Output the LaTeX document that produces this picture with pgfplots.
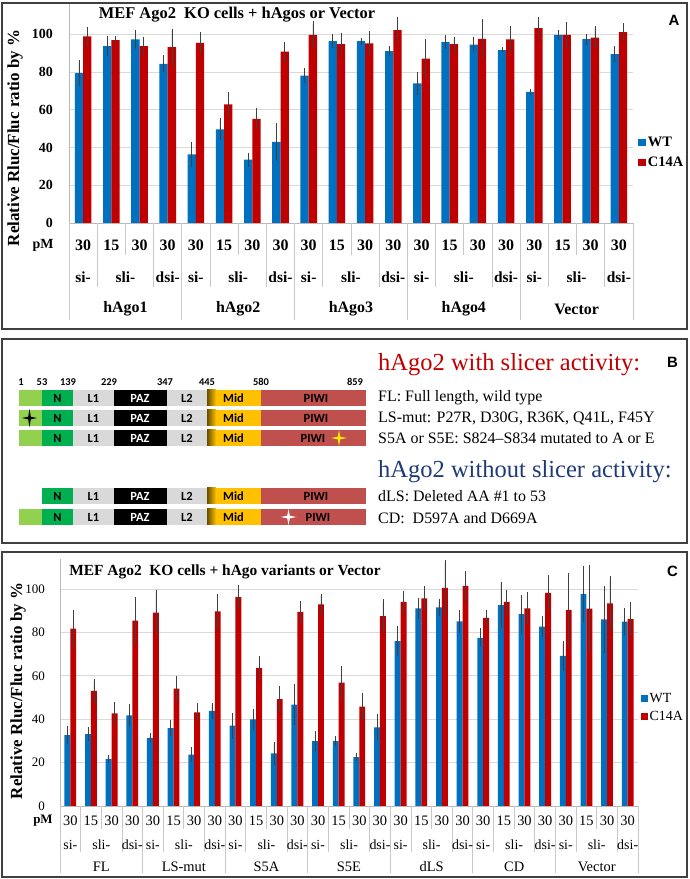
\documentclass[border=0pt]{standalone}
\usepackage{pgfplots}
\pgfplotsset{compat=1.18}
\usepackage{pgfplotstable}
\usepackage{fontspec}
\setmainfont{Liberation Serif}
\newfontfamily\calib{Carlito}
\newfontfamily\arialf{Liberation Sans}
\definecolor{wtblue}{HTML}{0070C0}
\definecolor{c14red}{HTML}{C00000}
\definecolor{gridc}{HTML}{D9D9D9}
\definecolor{sepc}{HTML}{C8C8C8}
\definecolor{lsgreen}{HTML}{92D050}
\definecolor{ngreen}{HTML}{00B050}
\definecolor{lgray}{HTML}{D9D9D9}
\definecolor{midorange}{HTML}{FFC000}
\definecolor{piwired}{HTML}{C0504D}
\definecolor{navy}{HTML}{1F3A78}
\newcommand{\fs}[1]{\fontsize{#1}{#1}\selectfont}
\newcommand{\sparkle}[5]{% colour, x, y, half height, half width
  \fill[#1] (#2,#3-#4) -- (#2+1.3,#3-1.3) -- (#2+#5,#3) -- (#2+1.3,#3+1.3)
    -- (#2,#3+#4) -- (#2-1.3,#3+1.3) -- (#2-#5,#3) -- (#2-1.3,#3-1.3) -- cycle;}

% panel A: hAgo1..4, Vector; si-30, sli-15, sli-30, dsi-30
\pgfplotstableread{
x wt wte mu mue
0 79.4 5.5 98.8 3.8
1 93.7 4.0 96.8 1.2
2 97.2 4.0 93.7 3.5
3 84.3 3.3 93.1 8.6
4 36.3 5.3 95.4 4.6
5 49.6 4.5 62.8 5.2
6 33.5 2.5 55.2 4.2
7 42.9 9.0 90.8 4.0
8 78.1 2.8 99.6 6.0
9 96.3 2.5 94.7 4.6
10 96.3 0.5 95.2 5.0
11 91.0 1.4 102.1 5.5
12 73.9 4.6 87.1 9.2
13 95.8 2.3 94.7 2.6
14 94.5 2.6 97.5 9.4
15 91.5 0.4 97.2 6.0
16 69.5 0.3 103.2 4.4
17 99.6 1.6 99.6 5.8
18 97.4 1.6 98.2 4.9
19 89.4 3.0 101.1 3.5
}\dataA

% panel C: FL, LS-mut, S5A, S5E, dLS, CD, Vector
\pgfplotstableread{
x wt wte mu mue
0 32.7 3.2 81.7 7.3
1 33.1 2.0 53.0 4.4
2 21.7 0.8 42.7 4.0
3 41.8 4.3 85.4 9.6
4 31.4 1.1 89.1 9.2
5 35.9 2.7 54.1 4.9
6 23.7 2.4 43.1 3.4
7 43.8 2.6 89.7 6.9
8 37.0 4.9 96.3 4.2
9 39.9 3.8 63.6 4.6
10 24.2 4.2 49.3 5.0
11 46.7 8.2 89.4 3.9
12 29.9 3.5 92.9 3.9
13 29.9 1.3 56.9 6.7
14 22.5 0.8 45.8 5.2
15 36.2 4.9 87.5 6.6
16 76.0 5.7 94.1 4.0
17 91.1 3.6 95.7 4.5
18 91.5 3.0 100.5 11.9
19 85.1 4.3 101.4 5.9
20 77.5 3.2 86.7 2.6
21 92.6 9.7 94.0 4.2
22 88.4 7.9 91.1 6.3
23 82.7 3.9 98.2 7.3
24 69.2 5.9 90.4 16.0
25 97.7 12.0 90.9 19.0
26 86.0 14.2 93.4 11.4
27 84.9 5.2 86.1 6.7
}\dataC

\pgfplotsset{
  barchart/.style={
    scale only axis, anchor=south west, clip=false,
    ybar=0pt, ymin=0, ytick={0,20,...,100},
    xtick=\empty, major tick length=0pt,
    axis y line*=left, axis x line*=bottom,
    axis line style={black!28, line width=0.8bp},
    ymajorgrids, grid style={gridc, line width=0.8bp},
    /pgf/number format/assume math mode=true,
    error bars/error bar style={black!75, line width=0.6bp},
    error bars/error mark options={black!75, line width=0.6bp, mark size=2.4bp},
    legend cell align=left,
  },
}

\begin{document}
\begin{tikzpicture}[x=1bp,y=1bp]
\path[use as bounding box] (0,0) rectangle (690,879);
\coordinate (pA) at (69,656);
\coordinate (pC) at (60,73);

% ---------- panel A ----------
\begin{axis}[barchart, at={(pA)}, width=564bp, height=219bp,
  xmin=-0.5, xmax=19.5, ymax=116, bar width=8.3bp,
  yticklabel style={font=\bfseries\fs{14}, inner sep=0pt, xshift=-16bp},
  legend style={at={(1.004,0.322)}, anchor=west, draw=none, fill=none,
    font=\bfseries\fs{14.5}, row sep=5bp}]
\addplot[fill=wtblue, draw=none,
  legend image code/.code={\fill[wtblue] (0bp,-3.6bp) rectangle (7.5bp,3.6bp);},
  error bars/.cd, y dir=both, y explicit]
  table[x=x, y=wt, y error=wte] {\dataA};
\addplot[fill=c14red, draw=none,
  legend image code/.code={\fill[c14red] (0bp,-3.6bp) rectangle (7.5bp,3.6bp);},
  error bars/.cd, y dir=both, y explicit]
  table[x=x, y=mu, y error=mue] {\dataA};
\legend{WT,C14A}
\end{axis}

% ---------- panel C ----------
\begin{axis}[barchart, at={(pC)}, width=578bp, height=247.4bp,
  xmin=-0.5, xmax=27.5, ymax=114, bar width=5.9bp,
  yticklabel style={font=\fs{13}, inner sep=0pt, xshift=-15bp},
  legend style={at={(1.0,0.398)}, anchor=west, draw=none, fill=none,
    font=\fs{14}, row sep=3bp}]
\addplot[fill=wtblue, draw=none,
  legend image code/.code={\fill[wtblue] (0bp,-3.2bp) rectangle (6.5bp,3.2bp);},
  error bars/.cd, y dir=both, y explicit]
  table[x=x, y=wt, y error=wte] {\dataC};
\addplot[fill=c14red, draw=none,
  legend image code/.code={\fill[c14red] (0bp,-3.2bp) rectangle (6.5bp,3.2bp);},
  error bars/.cd, y dir=both, y explicit]
  table[x=x, y=mu, y error=mue] {\dataC};
\legend{WT,C14A}
\end{axis}

\begin{scope}[shift={(0,879)}, yscale=-1]
% frames
\draw[black!75, line width=1.3bp] (2,3) rectangle (687,329);
\draw[black!75, line width=1.3bp] (2,339) rectangle (687,543);
\draw[black!75, line width=1.3bp] (2,552) rectangle (687,877);

% ---- panel A labels ----
\node[font=\bfseries\fs{16.5}] at (237,15) {MEF Ago2\ \ KO cells + hAgos or Vector};
\node[font=\bfseries\fs{17}, rotate=90] at (15,138) {Relative Rluc/Fluc ratio by \%};
\node[font=\arialf\bfseries\fs{15}] at (674,20.5) {A};
\foreach \k in {0,...,20}{
  \pgfmathsetmacro\xx{69+28.2*\k}
  \pgfmathsetmacro\yy{mod(\k,4)==0 ? 320 : (mod(\k,4)==2 ? 255 : 287)}
  \draw[sepc, line width=0.8bp] (\xx,223) -- (\xx,\yy);
}
\node[font=\bfseries\fs{14}] at (43,245) {pM};
\foreach \g/\name in {0/hAgo1,1/hAgo2,2/hAgo3,3/hAgo4,4/Vector}{
  \foreach \i/\t in {0/30,1/15,2/30,3/30}
    \node[font=\bfseries\fs{16}] at ({69+28.2*(4*\g+\i+0.5)},245) {\t};
  \foreach \i/\t in {0.5/si-,2/sli-,3.5/dsi-}
    \node[font=\bfseries\fs{15.5}] at ({69+28.2*(4*\g+\i)},277) {\t};
  \node[font=\bfseries\fs{16}] at ({69+28.2*(4*\g+2)},309) {\name};
}

% ---- panel C labels ----
\node[font=\bfseries\fs{15.5}] at (225,572) {MEF Ago2\ \ KO cells + hAgo variants or Vector};
\node[font=\bfseries\fs{17}, rotate=90] at (18,691) {Relative Rluc/Fluc ratio by \%};
\node[font=\arialf\bfseries\fs{15}] at (672.5,571) {C};
\foreach \k in {0,...,28}{
  \pgfmathsetmacro\xx{60+20.643*\k}
  \pgfmathsetmacro\yy{mod(\k,4)==0 ? 873 : (mod(\k,4)==2 ? 829 : 852)}
  \draw[sepc, line width=0.8bp] (\xx,806) -- (\xx,\yy);
}
\node[font=\bfseries\fs{13}] at (43,821) {pM};
\foreach \g/\name in {0/FL,1/LS-mut,2/S5A,3/S5E,4/dLS,5/CD,6/Vector}{
  \foreach \i/\t in {0/30,1/15,2/30,3/30}
    \node[font=\fs{14.5}] at ({60+20.643*(4*\g+\i+0.5)},821) {\t};
  \foreach \i/\t in {0.5/si-,2/sli-,3.5/dsi-}
    \node[font=\fs{14}] at ({60+20.643*(4*\g+\i)},845) {\t};
  \node[font=\fs{14.5}] at ({60+20.643*(4*\g+2)},867) {\name};
}

% ---- panel B: hAgo2 domain schematic ----
\node[font=\arialf\bfseries\fs{15}] at (672.5,362) {B};
\foreach \x/\t in {21/1,42/53,68/139,109/229,165/347,207/445,261/580,355/859}
  \node[font=\calib\bfseries\fs{10.5}] at (\x,382) {\t};
\foreach \y/\ls in {398/1,418/1,438/1,496/0,517/1}{
  \ifnum\ls=1 \fill[lsgreen] (18.5,\y-8) rectangle (42,\y+8); \fi
  \fill[ngreen] (42,\y-8) rectangle (73,\y+8);
  \fill[lgray] (73,\y-8) rectangle (114,\y+8);
  \fill[black] (114,\y-8) rectangle (166.5,\y+8);
  \fill[lgray] (166.5,\y-8) rectangle (207,\y+8);
  \fill[midorange] (207,\y-8) rectangle (261,\y+8);
  \shade[left color=midorange!40!black, right color=midorange] (207,\y-8) rectangle (216,\y+8);
  \fill[piwired] (261,\y-8) rectangle (366,\y+8);
  \node[font=\calib\bfseries\fs{12.5}] at (57.5,\y) {N};
  \node[font=\calib\bfseries\fs{12.5}] at (93.5,\y) {L1};
  \node[font=\calib\bfseries\fs{12.5}, white] at (140,\y) {PAZ};
  \node[font=\calib\bfseries\fs{12.5}] at (187,\y) {L2};
  \node[font=\calib\bfseries\fs{12.5}] at (233.5,\y) {Mid};
}
\node[font=\calib\bfseries\fs{12.5}] at (316,398) {PIWI};
\node[font=\calib\bfseries\fs{12.5}] at (316,418) {PIWI};
\node[font=\calib\bfseries\fs{12.5}] at (313,438) {PIWI};
\node[font=\calib\bfseries\fs{12.5}] at (316,496) {PIWI};
\node[font=\calib\bfseries\fs{12.5}] at (318,517) {PIWI};
\sparkle{black}{29.5}{418}{9}{7.5}
\sparkle{yellow!90!orange}{339}{438}{8}{8}
\sparkle{white}{288.5}{517}{8}{8}

\node[anchor=west, font=\fs{24.6}, text=c14red, inner sep=0pt] at (378,365) {hAgo2 with slicer activity:};
\node[anchor=west, font=\fs{24.6}, text=navy, inner sep=0pt] at (378,472) {hAgo2 without slicer activity:};
\node[anchor=west, font=\fs{16}, inner sep=0pt] at (378,398) {FL: Full length, wild type};
\node[anchor=west, font=\fs{16}, inner sep=0pt] at (378,418) {LS-mut: P27R, D30G, R36K, Q41L, F45Y};
\node[anchor=west, font=\fs{16}, inner sep=0pt] at (378,438) {S5A or S5E: S824--S834 mutated to A or E};
\node[anchor=west, font=\fs{16}, inner sep=0pt] at (378,496) {dLS: Deleted AA \#1 to 53};
\node[anchor=west, font=\fs{16}, inner sep=0pt] at (378,518) {CD:\ \ D597A and D669A};
\end{scope}
\end{tikzpicture}
\end{document}
